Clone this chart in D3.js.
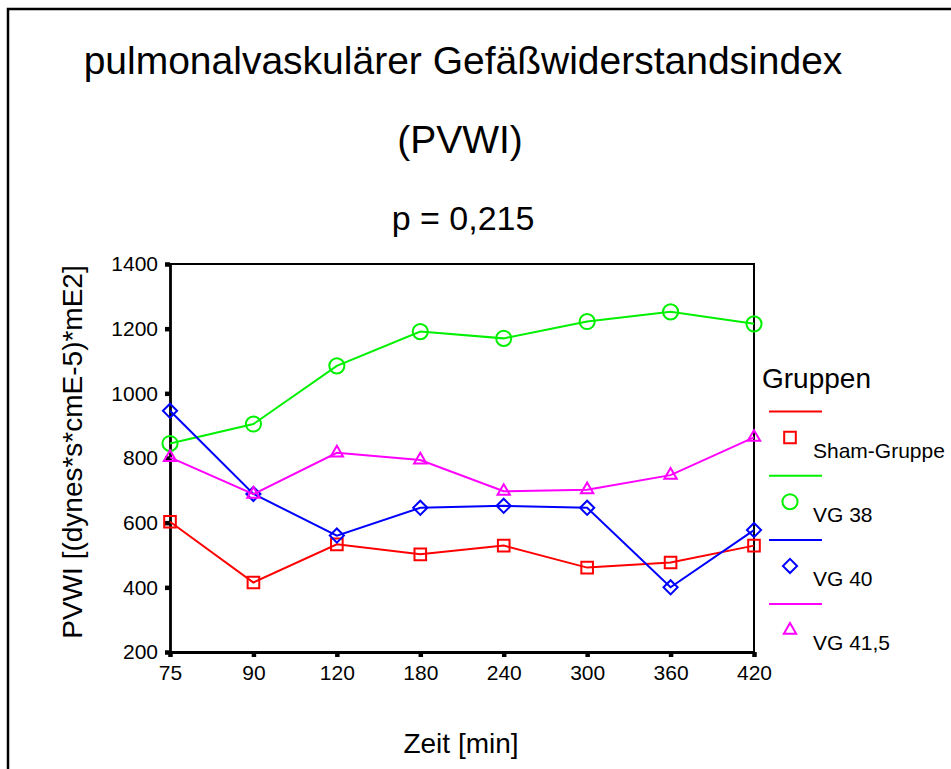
<!DOCTYPE html>
<html>
<head>
<meta charset="utf-8">
<script src="https://cdn.jsdelivr.net/npm/d3@7"></script>
<style>
  html, body { margin: 0; padding: 0; background: #fff; }
  svg { display: block; font-family: "Liberation Sans", Arial, Helvetica, sans-serif; }
</style>
</head>
<body>
<svg id="chart" width="951" height="769"></svg>
<script>
const categories = ["75", "90", "120", "180", "240", "300", "360", "420"];
const yTicks = [200, 400, 600, 800, 1000, 1200, 1400];
const seriesNames = ["Sham-Gruppe", "VG 38", "VG 40", "VG 41,5"];
const shamValues = [603, 415, 533, 502, 529, 461, 477, 529];
const vg38Values = [845, 905, 1085, 1191, 1170, 1222, 1252, 1215];
const vg40Values = [946, 689, 560, 646, 652, 646, 400, 577];
const vg415Values = [802, 688, 816, 794, 697, 702, 747, 864];
const seriesColors = ["#ff0000", "#00f000", "#0000ff", "#ff00ff"];
const seriesShapes = ["square", "circle", "diamond", "triangle"];
const titleLines = ["pulmonalvaskulärer Gefäßwiderstandsindex", "(PVWI)", "p = 0,215"];
const xLabel = "Zeit [min]";
const yLabel = "PVWI [(dynes*s*cmE-5)*mE2]";
const legendTitle = "Gruppen";

const series = seriesNames.map((name, i) => ({
  name,
  values: [shamValues, vg38Values, vg40Values, vg415Values][i],
  color: seriesColors[i],
  shape: seriesShapes[i]
}));

const svg = d3.select("#chart");
const L = 170, R = 754, T = 264, B = 652;

// outer frame
svg.append("path")
  .attr("d", `M8,769 L8,9 L951,9`)
  .attr("fill", "none").attr("stroke", "#000").attr("stroke-width", 2.5);

// titles
svg.append("text").attr("x", 463).attr("y", 74).attr("text-anchor", "middle")
  .attr("font-size", 39).text(titleLines[0]);
svg.append("text").attr("x", 460).attr("y", 153).attr("text-anchor", "middle")
  .attr("font-size", 39).text(titleLines[1]);
svg.append("text").attr("x", 463).attr("y", 230).attr("text-anchor", "middle")
  .attr("font-size", 34).text(titleLines[2]);

const x = d3.scalePoint().domain(categories).range([L, R]);
const y = d3.scaleLinear().domain([200, 1400]).range([B, T]);

// plot frame top/right
svg.append("path").attr("d", `M${L},${T} L${R},${T} L${R},${B}`)
  .attr("fill", "none").attr("stroke", "#000").attr("stroke-width", 2);

const yAxis = svg.append("g").attr("transform", `translate(${L},0)`)
  .call(d3.axisLeft(y).tickValues(yTicks).tickFormat(d3.format("d"))
    .tickSizeInner(5).tickSizeOuter(0).tickPadding(7));
const xAxis = svg.append("g").attr("transform", `translate(0,${B})`)
  .call(d3.axisBottom(x).tickSizeInner(5).tickSizeOuter(0).tickPadding(8));

[yAxis, xAxis].forEach(g => {
  g.select(".domain").attr("stroke", "#000").attr("stroke-width", 2.8);
  g.selectAll(".tick line").attr("stroke", "#000").attr("stroke-width", 4.5);
  g.selectAll(".tick text").attr("font-size", 21).attr("fill", "#000")
    .attr("font-family", "Liberation Sans, Arial, sans-serif");
});

// axis labels
svg.append("text").attr("x", 461).attr("y", 753).attr("text-anchor", "middle")
  .attr("font-size", 28).text(xLabel);
svg.append("text").attr("transform", "translate(82,452) rotate(-90)")
  .attr("text-anchor", "middle").attr("font-size", 28).text(yLabel);

function markerPath(shape) {
  if (shape === "square") return d3.symbol(d3.symbolSquare, 135)();
  if (shape === "circle") return d3.symbol(d3.symbolCircle, 180)();
  if (shape === "diamond") return d3.symbol(d3.symbolSquare, 100)();
  return d3.symbol(d3.symbolTriangle, 66)();
}
function markerTransform(shape, px, py) {
  return shape === "diamond" ? `translate(${px},${py}) rotate(45)` : `translate(${px},${py})`;
}

const line = d3.line().x((d, i) => x(categories[i])).y(d => y(d));

series.forEach(s => {
  svg.append("path").datum(s.values).attr("d", line)
    .attr("fill", "none").attr("stroke", s.color).attr("stroke-width", 2);
  svg.append("g").selectAll("path").data(s.values).join("path")
    .attr("d", markerPath(s.shape))
    .attr("transform", (d, i) => markerTransform(s.shape, x(categories[i]), y(d)))
    .attr("fill", "none").attr("stroke", s.color).attr("stroke-width", 2);
});

// legend
svg.append("text").attr("x", 762).attr("y", 388).attr("font-size", 28).text(legendTitle);
series.forEach((s, i) => {
  const base = 411.5 + i * 64.2;
  svg.append("line").attr("x1", 769).attr("x2", 822).attr("y1", base).attr("y2", base)
    .attr("stroke", s.color).attr("stroke-width", 2);
  svg.append("path").attr("d", markerPath(s.shape))
    .attr("transform", markerTransform(s.shape, 790, base + 26))
    .attr("fill", "none").attr("stroke", s.color).attr("stroke-width", 2);
  svg.append("text").attr("x", 813).attr("y", base + 46).attr("font-size", 21)
    .text(s.name);
});
</script>
</body>
</html>
